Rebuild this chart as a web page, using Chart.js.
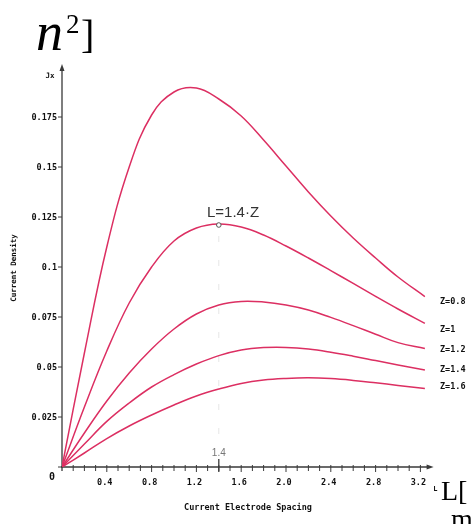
<!DOCTYPE html>
<html>
<head>
<meta charset="utf-8">
<script src="https://cdn.jsdelivr.net/npm/chart.js@4"></script>
<style>
html,body{margin:0;padding:0;background:#fff;}
#c{display:block;}
</style>
</head>
<body>
<canvas id="c" width="473" height="524"></canvas>
<script>
// Current electrode spacing L (x values)
const spacing = [0, 0.2, 0.4, 0.6, 0.8, 1.0, 1.2, 1.4, 1.6, 1.8, 2.0, 2.2, 2.4, 2.6, 2.8, 3.0, 3.24];
// Current density Jx for each depth Z
const z08 = [0, 0.057, 0.110, 0.150, 0.176, 0.1875, 0.1895, 0.184, 0.1755, 0.1635, 0.1505, 0.1375, 0.1255, 0.1145, 0.1045, 0.0950, 0.0852];
const z10 = [0, 0.030, 0.058, 0.082, 0.100, 0.113, 0.1195, 0.1215, 0.1200, 0.1160, 0.1105, 0.1045, 0.0982, 0.0918, 0.0853, 0.0790, 0.0718];
const z12 = [0, 0.017, 0.033, 0.047, 0.059, 0.069, 0.0765, 0.081, 0.0828, 0.0825, 0.081, 0.0785, 0.0748, 0.0707, 0.0664, 0.0622, 0.0593];
const z14 = [0, 0.0115, 0.0228, 0.032, 0.040, 0.0462, 0.0515, 0.0557, 0.0585, 0.0597, 0.0598, 0.059, 0.0574, 0.0554, 0.0532, 0.0510, 0.0485];
const z16 = [0, 0.007, 0.0142, 0.0205, 0.026, 0.031, 0.0355, 0.039, 0.0418, 0.0435, 0.0443, 0.0446, 0.0442, 0.0433, 0.0421, 0.0408, 0.0393];
const seriesLabels = ["Z=0.8", "Z=1", "Z=1.2", "Z=1.4", "Z=1.6"];
const yTickValues = [0.175, 0.15, 0.125, 0.1, 0.075, 0.05, 0.025, 0];
const yTickLabels = ["0.175", "0.15", "0.125", "0.1", "0.075", "0.05", "0.025", "0"];
const xTickValues = [0.4, 0.8, 1.2, 1.6, 2.0, 2.4, 2.8, 3.2];
const xTickLabels = ["0.4", "0.8", "1.2", "1.6", "2.0", "2.4", "2.8", "3.2"];
const markLabel = "L=1.4·Z";
const markX = 1.4;
const markY = 0.1215;

const allSeries = [z08, z10, z12, z14, z16];
const lineColor = '#dc2f62';

const datasets = allSeries.map((s, i) => ({
  label: seriesLabels[i],
  data: s.map((v, j) => ({x: spacing[j], y: v})),
  borderColor: lineColor,
  borderWidth: 1.5,
  pointRadius: 0,
  fill: false,
  tension: 0.4
}));

const axesPlugin = {
  id: 'axesPlugin',
  beforeDatasetsDraw(chart) {
    const {ctx, scales: {x, y}} = chart;
    const x0 = x.getPixelForValue(0), y0 = y.getPixelForValue(0);
    const yTop = y.getPixelForValue(0.2);
    const xEnd = x.getPixelForValue(3.3);
    ctx.save();
    // faint guide at L=1.4
    ctx.strokeStyle = 'rgba(0,0,0,0.10)';
    ctx.lineWidth = 1;
    ctx.setLineDash([6, 18]);
    ctx.beginPath();
    ctx.moveTo(x.getPixelForValue(markX), y.getPixelForValue(markY) + 12);
    ctx.lineTo(x.getPixelForValue(markX), y0 - 18);
    ctx.stroke();
    ctx.setLineDash([]);
    // axes
    ctx.strokeStyle = '#3a3a3a';
    ctx.fillStyle = '#3a3a3a';
    ctx.lineWidth = 1.3;
    ctx.beginPath();
    ctx.moveTo(x0, y0 + 4);
    ctx.lineTo(x0, yTop + 3);
    ctx.moveTo(x0 - 1, y0);
    ctx.lineTo(xEnd - 3, y0);
    ctx.stroke();
    // arrows
    ctx.beginPath();
    ctx.moveTo(x0, yTop - 3); ctx.lineTo(x0 - 2.5, yTop + 4); ctx.lineTo(x0 + 2.5, yTop + 4); ctx.closePath(); ctx.fill();
    ctx.beginPath();
    ctx.moveTo(xEnd + 2, y0); ctx.lineTo(xEnd - 5, y0 - 2.5); ctx.lineTo(xEnd - 5, y0 + 2.5); ctx.closePath(); ctx.fill();
    // y ticks
    ctx.lineWidth = 1;
    yTickValues.forEach(v => {
      const py = y.getPixelForValue(v);
      ctx.beginPath(); ctx.moveTo(x0 - 4, py); ctx.lineTo(x0, py); ctx.stroke();
    });
    // x minor ticks every 0.1
    for (let i = 1; i <= 32; i++) {
      const px = x.getPixelForValue(i / 10);
      const len = (i % 4 === 0) ? 5 : 4;
      ctx.beginPath(); ctx.moveTo(px, y0 - 2); ctx.lineTo(px, y0 + len); ctx.stroke();
    }
    // taller tick at 1.4
    const p14 = x.getPixelForValue(markX);
    ctx.lineWidth = 1.3;
    ctx.beginPath(); ctx.moveTo(p14, y0 - 8); ctx.lineTo(p14, y0 + 5); ctx.stroke();
    // labels
    ctx.fillStyle = '#111';
    ctx.font = "bold 8.5px 'DejaVu Sans Mono'";
    ctx.textAlign = 'right';
    ctx.textBaseline = 'middle';
    yTickValues.forEach((v, i) => {
      let py = y.getPixelForValue(v);
      if (v === 0) { ctx.font = "bold 10px 'DejaVu Sans Mono'"; ctx.fillText(yTickLabels[i], x0 - 7, py + 10); ctx.font = "bold 8.5px 'DejaVu Sans Mono'"; }
      else ctx.fillText(yTickLabels[i], x0 - 5, py + 1);
    });
    ctx.textAlign = 'center';
    xTickValues.forEach((v, i) => {
      ctx.fillText(xTickLabels[i], x.getPixelForValue(v) - 2, y0 + 16);
    });
    ctx.font = "bold 7px 'DejaVu Sans Mono'";
    ctx.fillText('L', x.getPixelForValue(3.2) + 15, y0 + 22);
    ctx.font = "bold 7.5px 'DejaVu Sans Mono'";
    ctx.fillText('Jx', x0 - 12, yTop + 9);
    // axis titles
    ctx.font = "bold 8.5px 'DejaVu Sans Mono'";
    ctx.fillText('Current Electrode Spacing', 248, y0 + 41);
    ctx.save();
    ctx.translate(14, 268);
    ctx.rotate(-Math.PI / 2);
    ctx.font = "bold 7.5px 'DejaVu Sans Mono'";
    ctx.fillText('Current Density', 0, 0);
    ctx.restore();
    // 1.4 label
    ctx.fillStyle = '#777';
    ctx.font = "10px 'Liberation Sans'";
    ctx.fillText('1.4', p14, y0 - 14);
    ctx.restore();
  },
  afterDatasetsDraw(chart) {
    const {ctx, scales: {x, y}} = chart;
    ctx.save();
    // series labels
    ctx.fillStyle = '#111';
    ctx.font = "bold 8.5px 'DejaVu Sans Mono'";
    ctx.textAlign = 'left';
    ctx.textBaseline = 'middle';
    seriesLabels.forEach((t, i) => {
      ctx.fillText(t, 440, [302, 330, 350, 370, 387][i]);
    });
    // peak marker and annotation
    const px = x.getPixelForValue(markX), py = y.getPixelForValue(markY);
    ctx.strokeStyle = '#555';
    ctx.lineWidth = 1;
    ctx.fillStyle = '#fff';
    ctx.beginPath(); ctx.arc(px, py + 1, 2.3, 0, Math.PI * 2); ctx.fill(); ctx.stroke();
    ctx.fillStyle = '#333';
    ctx.font = "15px 'Liberation Sans'";
    ctx.textAlign = 'left';
    ctx.textBaseline = 'alphabetic';
    ctx.fillText(markLabel, 207, 217);
    // cropped outside text
    ctx.fillStyle = '#000';
    ctx.font = "italic 54px 'Liberation Serif'";
    ctx.fillText('n', 36, 50);
    ctx.font = "27px 'Liberation Serif'";
    ctx.fillText('2', 66, 33);
    ctx.font = "40px 'Liberation Serif'";
    ctx.fillText(']', 81, 48);
    ctx.font = "28px 'Liberation Serif'";
    ctx.fillText('L[', 441, 500);
    ctx.fillText('m', 451, 528);
    ctx.restore();
  }
};

new Chart(document.getElementById('c'), {
  type: 'line',
  data: {datasets},
  options: {
    responsive: false,
    animation: false,
    layout: {padding: {left: 62, right: 41.4, top: 67, bottom: 57}},
    plugins: {legend: {display: false}, tooltip: {enabled: false}},
    scales: {
      x: {type: 'linear', min: 0, max: 3.3, display: false},
      y: {type: 'linear', min: 0, max: 0.2, display: false}
    }
  },
  plugins: [axesPlugin]
});
</script>
</body>
</html>
